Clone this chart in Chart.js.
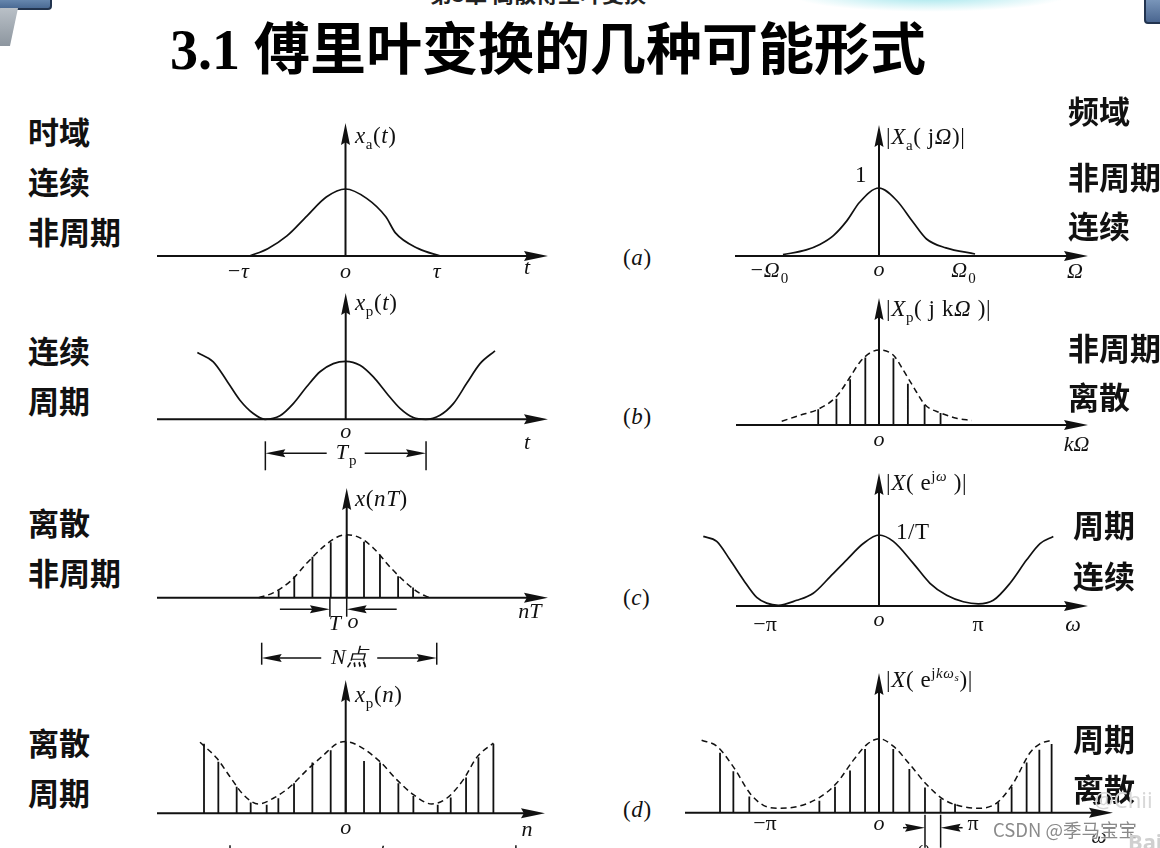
<!DOCTYPE html>
<html>
<head>
<meta charset="utf-8">
<script src="https://cdn.jsdelivr.net/npm/chart.js@4.4.1/dist/chart.umd.min.js"></script>
<style>
html, body { margin: 0; padding: 0; background: #fff; }
body { width: 1160px; height: 848px; position: relative; overflow: hidden; }
canvas { position: absolute; }
.t { position: absolute; white-space: nowrap; }
.cn { position: absolute; font-family: "Noto Sans CJK SC"; font-weight: bold; font-size: 31px; line-height: 31px; color: #111; white-space: nowrap; }
.fn { position: absolute; font-family: "Liberation Serif"; font-size: 23px; line-height: 24px; letter-spacing: 0.6px; color: #111; white-space: nowrap; }
.fn sub { font-size: 15px; vertical-align: -6px; line-height: 0; }
.fn sup { font-size: 15px; vertical-align: 9px; line-height: 0; }
.fn sup sub { font-size: 11px; vertical-align: -3px; }
</style>
</head>
<body>

<!-- slide decorations -->
<div class="t" style="left:-6px;top:-14px;width:54px;height:20px;background:linear-gradient(#8fb0d4,#4a6a94);border:2px solid #22344f;border-radius:4px"></div>
<div class="t" style="left:-4px;top:8px;width:18px;height:38px;background:linear-gradient(#b9c0c7,#8d969f);transform:skewX(-12deg)"></div>
<div class="t" style="left:1144px;top:-10px;width:28px;height:30px;background:linear-gradient(#8aa6c8,#4a6690);border:2px solid #22344f;border-radius:4px"></div>
<div class="t" style="left:790px;top:-22px;width:280px;height:34px;background:radial-gradient(ellipse at center,rgba(110,215,225,0.7),rgba(255,255,255,0) 70%)"></div>
<div class="t" style="left:430px;top:-24px;font:bold 22px 'Noto Sans CJK SC';color:#222">第3章 离散傅里叶变换</div>

<!-- title -->
<div class="t" style="left:170px;top:4px;line-height:60px;color:#000">
  <span style="font:bold 56px 'Liberation Serif'">3.1 </span><span style="font:bold 56px 'Noto Sans CJK SC'">傅里叶变换的几种可能形式</span>
</div>

<!-- left side captions -->
<div class="cn" style="left:28px;top:115px">时域</div>
<div class="cn" style="left:28px;top:165px">连续</div>
<div class="cn" style="left:28px;top:215px">非周期</div>
<div class="cn" style="left:28px;top:334px">连续</div>
<div class="cn" style="left:28px;top:384px">周期</div>
<div class="cn" style="left:28px;top:506px">离散</div>
<div class="cn" style="left:28px;top:556px">非周期</div>
<div class="cn" style="left:28px;top:726px">离散</div>
<div class="cn" style="left:28px;top:776px">周期</div>

<!-- right side captions -->
<div class="cn" style="left:1068px;top:94px">频域</div>
<div class="cn" style="left:1068px;top:160px">非周期</div>
<div class="cn" style="left:1068px;top:209px">连续</div>
<div class="cn" style="left:1068px;top:331px">非周期</div>
<div class="cn" style="left:1068px;top:380px">离散</div>
<div class="cn" style="left:1073px;top:508px">周期</div>
<div class="cn" style="left:1073px;top:559px">连续</div>
<div class="cn" style="left:1073px;top:722px">周期</div>
<div class="cn" style="left:1073px;top:772px">离散</div>

<!-- row tags -->
<div class="fn" style="left:623px;top:246px">(<i>a</i>)</div>
<div class="fn" style="left:623px;top:405px">(<i>b</i>)</div>
<div class="fn" style="left:623px;top:586px">(<i>c</i>)</div>
<div class="fn" style="left:623px;top:798px">(<i>d</i>)</div>

<script>
// ---------- data ----------
// (a) continuous aperiodic time signal, x in units of tau
const timeA_x = [-1, -0.81, -0.61, -0.4, -0.2, 0, 0.22, 0.42, 0.52, 0.76, 0.99];
const timeA_y = [0, 0.11, 0.3, 0.6, 0.88, 1, 0.86, 0.585, 0.345, 0.11, 0];
// (a) spectrum, x in units of Omega0
const freqA_x = [-0.99, -0.75, -0.61, -0.47, -0.33, -0.2, 0, 0.18, 0.35, 0.49, 0.69, 0.99];
const freqA_y = [0.02, 0.09, 0.17, 0.3, 0.52, 0.79, 1, 0.82, 0.5, 0.25, 0.12, 0.03];

// (b) periodic continuous signal, x in units of Tp
const timeB_x = [-0.923, -0.824, -0.741, -0.658, -0.575, -0.502, -0.409, -0.326, -0.243, -0.16, -0.077, 0,
                 0.089, 0.172, 0.255, 0.338, 0.421, 0.498, 0.587, 0.67, 0.753, 0.836, 0.929];
const timeB_y = [1.15, 0.99, 0.67, 0.33, 0.1, 0, 0.06, 0.27, 0.56, 0.82, 0.96, 1,
                 0.93, 0.73, 0.45, 0.19, 0.03, 0, 0.07, 0.27, 0.62, 0.96, 1.18];
// (b) line spectrum, x in harmonic index k
const freqB_k = [-4, -2.8, -1.9, -0.9, 0, 0.95, 1.9, 3.0, 4.05];
const freqB_mag = [0.21, 0.35, 0.61, 0.9, 1, 0.89, 0.55, 0.27, 0.16];
const freqB_envX = [-6.4, -5.2, -4, -2.8, -1.9, -1.25, -0.6, 0, 0.95, 1.6, 2.26, 3.03, 4.07, 5.1, 6.1];
const freqB_envY = [0.05, 0.13, 0.21, 0.38, 0.64, 0.84, 0.96, 1, 0.93, 0.73, 0.51, 0.27, 0.16, 0.09, 0.06];

// (c) sampled aperiodic signal, x in samples n
const timeC_n = [-4.05, -3.12, -2.04, -0.95, 0, 1.03, 1.98, 3.06, 3.95];
const timeC_val = [0.12, 0.34, 0.65, 0.88, 1, 0.89, 0.68, 0.34, 0.16];
const timeC_envX = [-5.24, -4.35, -3.36, -2.37, -1.38, -0.59, 0, 0.79, 1.58, 2.57, 3.56, 4.35, 4.94];
const timeC_envY = [0, 0.08, 0.26, 0.55, 0.81, 0.96, 1, 0.95, 0.79, 0.49, 0.23, 0.07, 0];
// (c) periodic continuous spectrum, x in units of pi
const freqC_x = [-1.757, -1.623, -1.49, -1.357, -1.223, -1.123, -1.007, -0.823, -0.657, -0.49, -0.323, -0.157, 0,
                 0.143, 0.343, 0.51, 0.677, 0.843, 0.993, 1.143, 1.31, 1.477, 1.61, 1.743];
const freqC_y = [0.98, 0.91, 0.65, 0.37, 0.12, 0.04, 0.01, 0.08, 0.18, 0.41, 0.65, 0.88, 1,
                 0.91, 0.6, 0.32, 0.15, 0.06, 0.03, 0.08, 0.32, 0.65, 0.88, 0.98];

// (d) periodic sequence, x in samples n
const timeD_n = [-8.5, -7.64, -6.54, -5.7, -4.74, -4.04, -3.1, -2.0, -0.9, 0, 1.1, 2.06, 3.16, 4.06, 5.52, 6.3, 7.22, 7.96, 8.86];
const timeD_val = [0.97, 0.72, 0.37, 0.15, 0.12, 0.21, 0.42, 0.71, 0.88, 1, 0.73, 0.71, 0.42, 0.24, 0.12, 0.22, 0.5, 0.78, 0.97];
const timeD_envX = [-8.74, -7.74, -6.94, -6.14, -5.24, -4.34, -3.34, -2.34, -1.34, -0.54, 0, 0.86, 2.06, 3.06, 4.06, 5.16, 6.06, 7.06, 7.86, 8.86];
const timeD_envY = [0.99, 0.77, 0.51, 0.26, 0.13, 0.21, 0.37, 0.6, 0.81, 0.97, 1, 0.93, 0.72, 0.47, 0.26, 0.13, 0.21, 0.47, 0.78, 0.98];
// (d) periodic discrete spectrum, x in bin index k
const freqD_k = [-10.37, -9.5, -8.46, -3.89, -2.87, -1.89, -0.91, 0, 0.93, 1.98, 3.0, 4.02, 4.96, 7.78, 8.65, 9.63, 10.46, 11.26];
const freqD_mag = [0.81, 0.56, 0.22, 0.16, 0.35, 0.57, 0.86, 1, 0.86, 0.59, 0.34, 0.19, 0.12, 0.14, 0.35, 0.68, 0.85, 0.93];
const freqD_envX = [-11.57, -10.59, -9.5, -8.41, -7.54, -6.57, -5.37, -3.85, -2.76, -1.67, -0.8, 0, 0.93, 2.02, 3.11, 4.2, 5.28, 6.48, 7.67, 8.76, 9.85, 10.5, 11.26];
const freqD_envY = [0.98, 0.9, 0.62, 0.26, 0.1, 0.06, 0.08, 0.21, 0.4, 0.71, 0.92, 1, 0.9, 0.65, 0.38, 0.18, 0.09, 0.06, 0.13, 0.4, 0.81, 0.93, 0.98];

// tick positions (data units) and labels
const ticksA_t = [-1.125, 0, 0.95, 1.89],  labelsA_t = ['−τ', 'o', 'τ', 't'];
const ticksA_f = [-1.144, 0, 0.866, 2.02], labelsA_f = ['−Ω_0', 'o', 'Ω_0', 'Ω'];
const ticksB_t = [0, 1.128],               labelsB_t = ['o', 't'];
const ticksB_f = [0, 13.0],                labelsB_f = ['o', 'kΩ'];
const ticksC_t = [-0.7, 0.37, 10.9],       labelsC_t = ['T', 'o', 'nT'];
const ticksC_f = [-1.14, 0, 0.99, 1.94],   labelsC_f = ['−π', 'o', 'π', 'ω'];
const ticksD_t = [0, 10.87],               labelsD_t = ['o', 'n'];
const ticksD_f = [-7.44, 0, 6.13, 14.35],  labelsD_f = ['−π', 'o', 'π', 'ω'];

// ---------- helpers ----------
const INK = '#111';
const pts = (xs, ys) => xs.map((x, i) => ({ x: x, y: ys[i] }));
const curve = (xs, ys) => ({ data: pts(xs, ys), borderColor: INK, borderWidth: 1.7, pointRadius: 0, cubicInterpolationMode: 'monotone' });
const dashed = (xs, ys) => Object.assign(curve(xs, ys), { borderDash: [6, 4], borderWidth: 1.5 });
const stems = (xs, ys) => ({
  data: xs.flatMap((x, i) => [{ x: x, y: 0 }, { x: x, y: ys[i] }, { x: x, y: null }]),
  borderColor: INK, borderWidth: 1.8, pointRadius: 0, tension: 0, spanGaps: false
});

function seg(ctx, x1, y1, x2, y2) { ctx.beginPath(); ctx.moveTo(x1, y1); ctx.lineTo(x2, y2); ctx.stroke(); }
function arrow(ctx, x, y, dx, dy, len, hw) {
  const bx = x - dx * len, by = y - dy * len;
  ctx.beginPath();
  ctx.moveTo(x, y);
  ctx.lineTo(bx - dy * hw, by + dx * hw);
  ctx.lineTo(bx + dx * len * 0.12, by + dy * len * 0.12);
  ctx.lineTo(bx + dy * hw, by - dx * hw);
  ctx.closePath();
  ctx.fill();
}
function label(ctx, text, x, y) {
  const parts = text.split('_');
  const main = parts[0], sub = parts[1];
  const f1 = (/π/.test(main) ? '' : 'italic ') + '22px "Liberation Serif"';
  const f2 = '15px "Liberation Serif"';
  ctx.font = f1; const w1 = ctx.measureText(main).width;
  ctx.font = f2; const w2 = sub ? ctx.measureText(sub).width : 0;
  const x0 = x - (w1 + w2) / 2;
  ctx.textBaseline = 'middle'; ctx.textAlign = 'left';
  ctx.font = f1; ctx.fillText(main, x0, y);
  if (sub) { ctx.font = f2; ctx.fillText(sub, x0 + w1 + 1, y + 8); }
}
function dimension(ctx, d, px, oy) {
  const a = px(d.from), b = px(d.to), y = oy + d.dy;
  ctx.lineWidth = 1.5;
  seg(ctx, a, oy + d.bar[0], a, oy + d.bar[1]);
  seg(ctx, b, oy + d.bar[0], b, oy + d.bar[1]);
  if (d.type === 'out') {
    const c = (a + b) / 2;
    seg(ctx, c - d.gap, y, a + 10, y); arrow(ctx, a, y, -1, 0, 20, 4);
    seg(ctx, c + d.gap, y, b - 10, y); arrow(ctx, b, y, 1, 0, 20, 4);
    if (d.text) label(ctx, d.text, c, y);
  } else {
    seg(ctx, a - d.len, y, a - 10, y); arrow(ctx, a, y, 1, 0, 20, 4);
    seg(ctx, b + d.len, y, b + 10, y); arrow(ctx, b, y, -1, 0, 20, 4);
  }
}

// draws the arrowed axes, tick labels and dimension marks of one panel
function axesPlugin(p) {
  return {
    id: 'sigAxes',
    afterDatasetsDraw(chart) {
      const ctx = chart.ctx, xs = chart.scales.x, ys = chart.scales.y;
      const px = v => xs.getPixelForValue(v);
      const ox = px(0), oy = ys.getPixelForValue(0);
      const xa = p.axis[0] - p.box[0], xb = p.axis[1] - p.box[0], yt = p.axis[2] - p.box[1];
      ctx.save();
      ctx.strokeStyle = INK; ctx.fillStyle = INK; ctx.lineWidth = 2;
      seg(ctx, xa, oy, xb - 12, oy); arrow(ctx, xb, oy, 1, 0, 24, 5);
      seg(ctx, ox, oy, ox, yt + 12); arrow(ctx, ox, yt, 0, -1, 22, 4.5);
      p.ticks.forEach((v, i) => label(ctx, p.tickText[i], px(v), oy + p.tickDy[i]));
      (p.dims || []).forEach(d => dimension(ctx, d, px, oy));
      ctx.restore();
    }
  };
}

function makePanel(p) {
  const [L, T, W, H] = p.box, [ox, oy] = p.origin, [ux, uy] = p.unit;
  const cv = document.createElement('canvas');
  cv.width = W; cv.height = H;
  cv.style.left = L + 'px'; cv.style.top = T + 'px';
  cv.style.width = W + 'px'; cv.style.height = H + 'px';
  document.body.insertBefore(cv, document.body.firstChild);
  new Chart(cv.getContext('2d'), {
    type: 'line',
    data: { datasets: p.datasets },
    options: {
      responsive: false, animation: false, devicePixelRatio: 1, events: [],
      layout: { padding: 0 },
      scales: {
        x: { type: 'linear', display: false, min: (L - ox) / ux, max: (L + W - ox) / ux },
        y: { type: 'linear', display: false, min: (oy - T - H) / uy, max: (oy - T) / uy }
      },
      plugins: { legend: { display: false }, tooltip: { enabled: false } }
    },
    plugins: [axesPlugin(p)]
  });
}

// ---------- panels ----------
const panels = [
  { box: [150, 112, 410, 180], origin: [345.5, 256], unit: [96, 67], axis: [157, 548, 123],
    datasets: [curve(timeA_x, timeA_y)], ticks: ticksA_t, tickText: labelsA_t, tickDy: [16, 16, 16, 12] },
  { box: [725, 112, 375, 180], origin: [879, 256], unit: [97, 68], axis: [735, 1088, 125],
    datasets: [curve(freqA_x, freqA_y)], ticks: ticksA_f, tickText: labelsA_f, tickDy: [15, 14, 15, 16] },
  { box: [150, 285, 410, 195], origin: [345.7, 419.3], unit: [160.7, 58], axis: [157, 548, 293],
    datasets: [curve(timeB_x, timeB_y)], ticks: ticksB_t, tickText: labelsB_t, tickDy: [13, 24],
    dims: [{ type: 'out', from: -0.5, to: 0.5, dy: 34, bar: [22, 51], gap: 19, text: 'T_p' }] },
  { box: [725, 290, 375, 170], origin: [879, 425], unit: [15.2, 75], axis: [736, 1088, 298],
    datasets: [dashed(freqB_envX, freqB_envY), stems(freqB_k, freqB_mag)], ticks: ticksB_f, tickText: labelsB_f, tickDy: [15, 20] },
  { box: [150, 480, 410, 190], origin: [346.7, 597.7], unit: [16.8, 63], axis: [157, 548, 488],
    datasets: [dashed(timeC_envX, timeC_envY), stems(timeC_n, timeC_val)], ticks: ticksC_t, tickText: labelsC_t, tickDy: [27, 25, 15],
    dims: [{ type: 'in', from: -1, to: 0, dy: 11.6, bar: [0, 19], len: 50 },
           { type: 'out', from: -5.06, to: 5.36, dy: 60.3, bar: [45, 67], gap: 28, text: 'N点' }] },
  { box: [695, 465, 405, 180], origin: [879, 606], unit: [100, 71], axis: [736, 1088, 473],
    datasets: [curve(freqC_x, freqC_y)], ticks: ticksC_f, tickText: labelsC_f, tickDy: [19, 14, 19, 19] },
  { box: [150, 672, 410, 176], origin: [345.7, 813.3], unit: [16.67, 71.7], axis: [157, 545, 680],
    datasets: [dashed(timeD_envX, timeD_envY), stems(timeD_n, timeD_val)], ticks: ticksD_t, tickText: labelsD_t, tickDy: [15, 17],
    dims: [{ type: 'out', from: -6.94, to: 10.21, dy: 45, bar: [32, 55], gap: 28, text: 'N点' }] },
  { box: [680, 665, 445, 183], origin: [879, 812.7], unit: [15.33, 74], axis: [685, 1113, 673],
    datasets: [dashed(freqD_envX, freqD_envY), stems(freqD_k, freqD_mag)], ticks: ticksD_f, tickText: labelsD_f, tickDy: [12, 12, 12, 25],
    dims: [{ type: 'in', from: 3.0, to: 4.02, dy: 15, bar: [2, 35], len: 22 }] }
];
panels.forEach(makePanel);
</script>

<!-- function labels -->
<div class="fn" style="left:355px;top:124px"><i>x</i><sub>a</sub>(<i>t</i>)</div>
<div class="fn" style="left:886px;top:125px">|<i>X</i><sub>a</sub>( j<i>Ω</i>)|</div>
<div class="fn" style="left:355px;top:291px"><i>x</i><sub>p</sub>(<i>t</i>)</div>
<div class="fn" style="left:886px;top:297px">|<i>X</i><sub>p</sub>( j k<i>Ω</i> )|</div>
<div class="fn" style="left:355px;top:487px"><i>x</i>(<i>nT</i>)</div>
<div class="fn" style="left:886px;top:471px">|<i>X</i>( e<sup>j<i>ω</i></sup> )|</div>
<div class="fn" style="left:355px;top:683px"><i>x</i><sub>p</sub>(<i>n</i>)</div>
<div class="fn" style="left:886px;top:668px">|<i>X</i>( e<sup>j<i>kω<sub>s</sub></i></sup>)|</div>
<div class="fn" style="left:855px;top:163px">1</div>
<div class="fn" style="left:896px;top:520px">1/T</div>
<div class="fn" style="left:918px;top:836px;font-size:16px"><i>ω</i><sub>s</sub></div>

<!-- watermarks -->
<div class="t" style="left:1094px;top:784px;font:22px 'Noto Sans';color:#d8d8d8">@Chii</div>
<div class="t" style="left:993px;top:816px;font:18.5px 'Noto Sans CJK SC';color:#8a8a8a;text-shadow:0 0 2px #fff,0 0 2px #fff,0 0 1px #fff">CSDN @季马宝宝</div>
<div class="t" style="left:1128px;top:826px;font:bold 22px 'Noto Sans';color:#d0d0d0">Bai</div>
</body>
</html>
